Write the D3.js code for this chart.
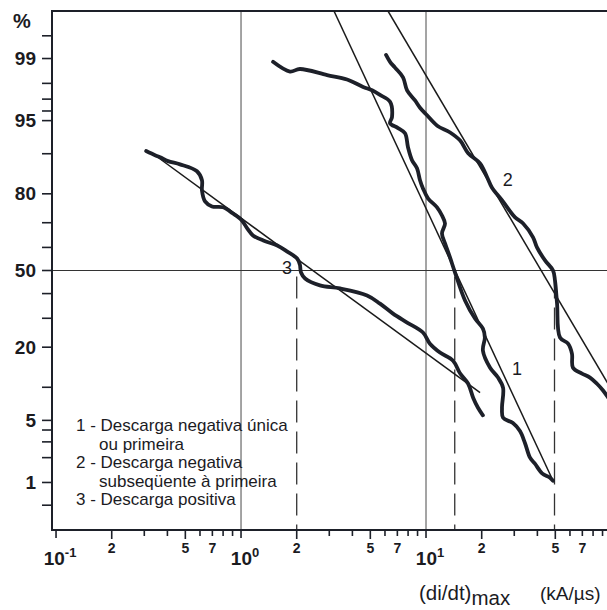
<!DOCTYPE html>
<html>
<head>
<meta charset="utf-8">
<script src="https://cdn.jsdelivr.net/npm/d3@7"></script>
<style>
  html, body { margin: 0; padding: 0; background: #ffffff; }
  svg { display: block; }
  text { font-family: "Liberation Sans", Arial, sans-serif; fill: #1b1b1f; }
</style>
</head>
<body>
<svg id="chart" width="607" height="610"></svg>
<script>
// Cumulative distribution of (di/dt)max, kA/µs, on log-probability paper.

// Curve 1 – negative first stroke: [di/dt, % exceeding]
const curve1 = [
  [1.49, 98.9], [1.84, 98.55], [2.08, 98.65], [2.92, 98.4], [3.74, 98.2], [4.57, 97.8],
  [5.11, 97.6], [5.64, 97.3], [6.39, 96.8], [6.55, 95.4], [6.39, 94.7], [7.06, 94.1],
  [7.70, 93.4], [7.99, 91.2], [8.40, 88.7], [8.94, 86.9], [9.28, 83.9], [9.63, 81.6],
  [10.25, 78.6], [11.47, 75.6], [12.2, 72.7], [12.67, 69.7], [12.2, 65.8], [12.67, 61.7],
  [13.48, 55.7], [14.35, 49.1], [16.25, 37.1], [18.4, 29.9], [20.3, 26.2], [20.8, 23.1],
  [20.3, 19.0], [22.2, 14.3], [24.5, 12.0], [26.1, 9.9], [25.75, 6.6], [26.1, 5.3],
  [29.5, 4.7], [32.2, 3.9], [34.3, 2.9], [36.5, 2.0], [38.8, 1.7], [42.4, 1.3],
  [46.8, 1.15], [48.6, 1.05]
];

// Curve 2 – negative subsequent stroke
const curve2 = [
  [6.08, 99.1], [6.39, 98.9], [6.80, 98.7], [7.51, 98.3], [7.90, 97.6], [8.72, 96.9],
  [9.28, 96.3], [10.1, 95.6], [11.5, 94.4], [13.5, 93.5], [15.3, 92.3], [16.9, 90.1],
  [19.6, 88.0], [21.4, 84.7], [22.7, 81.9], [25.8, 77.9], [30.3, 72.0], [33.5, 69.7],
  [37.9, 64.2], [39.8, 60.0], [44.0, 54.4], [48.6, 50.0], [49.8, 45.6], [51.1, 35.8],
  [53.0, 23.1], [58.6, 21.1], [61.5, 18.1], [62.3, 14.3], [69.7, 12.9], [77.0, 12.0],
  [84.0, 10.7], [90.6, 9.4], [98.8, 7.7]
];

// Curve 3 – positive stroke
const curve3 = [
  [0.307, 90.5], [0.343, 89.7], [0.365, 89.3], [0.403, 88.5], [0.468, 87.8], [0.578, 86.2],
  [0.615, 83.9], [0.615, 81.0], [0.639, 77.6], [0.697, 75.9], [0.799, 75.6], [0.905, 73.4],
  [1.01, 70.9], [1.08, 67.8], [1.16, 65.0], [1.32, 62.9], [1.57, 60.8], [1.77, 58.3],
  [2.01, 55.2], [2.08, 52.6], [2.11, 49.1], [2.22, 46.5], [2.67, 43.5], [3.43, 42.2],
  [4.80, 39.2], [5.64, 35.8], [6.63, 31.8], [7.90, 28.4], [9.63, 24.8], [10.5, 21.1],
  [11.9, 18.4], [14.0, 16.1], [15.3, 12.9], [16.9, 10.7], [18.0, 8.1], [19.1, 6.6],
  [20.3, 5.6]
];

// Fitted log-normal lines (two end points each)
const fit1 = [[3.18, 99.78], [48.6, 1.05]];
const fit2 = [[6.23, 99.78], [100, 9.7]];
const fit3 = [[0.343, 89.7], [19.6, 9.0]];

// Medians marked with dashed verticals
const medians = [2.0, 14.3, 49.5];

// Curve numbers placed next to each curve: [di/dt, %, label]
const curveLabels = [[31.0, 14.1, "1"], [27.7, 83.9, "2"], [1.77, 51.3, "3"]];

// Axis ticks
const yLabelTicks = [1, 5, 20, 50, 80, 95, 99];
const yMinorTicks = [0.5, 2, 3, 4, 10, 30, 40, 60, 70, 90, 96, 97, 98, 99.5];
const xDecades = [0.1, 1, 10];
const xDecadeExp = ["-1", "0", "1"];
const xMinorMult = [2, 3, 4, 5, 6, 7, 8, 9];
const xLabelMult = [2, 5, 7];

// Legend rows: [indent, text]
const legendLines = [
  [0, "1 - Descarga negativa única"],
  [23, "ou primeira"],
  [0, "2 - Descarga negativa"],
  [23, "subseqüente à primeira"],
  [0, "3 - Descarga positiva"]
];

// Inverse standard normal CDF (Acklam's rational approximation)
function probit(p) {
  const a = [-3.969683028665376e+01, 2.209460984245205e+02, -2.759285104469687e+02,
             1.383577518672690e+02, -3.066479806614716e+01, 2.506628277459239e+00];
  const b = [-5.447609879822406e+01, 1.615858368580409e+02, -1.556989798598866e+02,
             6.680131188771972e+01, -1.328068155288572e+01];
  const c = [-7.784894002430293e-03, -3.223964580411365e-01, -2.400758277161838e+00,
             -2.549732539343734e+00, 4.374664141464968e+00, 2.938163982698783e+00];
  const d = [7.784695709041462e-03, 3.224671290700398e-01, 2.445134137142996e+00,
             3.754408661907416e+00];
  const plow = 0.02425;
  let q, r;
  if (p < plow) {
    q = Math.sqrt(-2 * Math.log(p));
    return (((((c[0]*q+c[1])*q+c[2])*q+c[3])*q+c[4])*q+c[5]) /
           ((((d[0]*q+d[1])*q+d[2])*q+d[3])*q+1);
  } else if (p <= 1 - plow) {
    q = p - 0.5; r = q * q;
    return (((((a[0]*r+a[1])*r+a[2])*r+a[3])*r+a[4])*r+a[5])*q /
           (((((b[0]*r+b[1])*r+b[2])*r+b[3])*r+b[4])*r+1);
  } else {
    q = Math.sqrt(-2 * Math.log(1 - p));
    return -(((((c[0]*q+c[1])*q+c[2])*q+c[3])*q+c[4])*q+c[5]) /
            ((((d[0]*q+d[1])*q+d[2])*q+d[3])*q+1);
  }
}

const pLeft = 52, pTop = 11, pBottom = 530, pRight = 611;

const x = d3.scaleLog().domain([0.0951, 100]).range([pLeft, pRight]);
const yz = d3.scaleLinear()
  .domain([probit(0.0022), probit(0.9978)])
  .range([pBottom, pTop]);
const y = pct => yz(probit(pct / 100));

const svg = d3.select("#chart");

svg.append("defs").append("clipPath").attr("id", "plotClip")
  .append("rect").attr("x", pLeft).attr("y", pTop)
  .attr("width", pRight - pLeft).attr("height", pBottom - pTop);

const ink = "#1d2029";

// Grid: decade verticals and the 50 % line
svg.append("g").selectAll("line").data([1, 10]).join("line")
  .attr("x1", d => x(d)).attr("x2", d => x(d))
  .attr("y1", pTop).attr("y2", pBottom)
  .attr("stroke", "#4a4a4a").attr("stroke-width", 1);

svg.append("line")
  .attr("x1", pLeft).attr("x2", 607)
  .attr("y1", y(50)).attr("y2", y(50))
  .attr("stroke", "#333").attr("stroke-width", 1.2);

// Dashed median markers
svg.append("g").selectAll("line").data(medians).join("line")
  .attr("x1", d => x(d)).attr("x2", d => x(d))
  .attr("y1", y(50) + 6).attr("y2", pBottom)
  .attr("stroke", "#333").attr("stroke-width", 1.3)
  .attr("stroke-dasharray", "22,9");

// Frame
svg.append("path")
  .attr("d", `M${607},${pTop}H${pLeft}V${pBottom}H${607}`)
  .attr("fill", "none").attr("stroke", ink).attr("stroke-width", 2);

// Y ticks
const yTickAll = yLabelTicks.concat(yMinorTicks);
svg.append("g").selectAll("line").data(yTickAll).join("line")
  .attr("x1", pLeft - 10).attr("x2", pLeft)
  .attr("y1", d => y(d)).attr("y2", d => y(d))
  .attr("stroke", ink).attr("stroke-width", 1.6);

svg.append("g").selectAll("text").data(yLabelTicks).join("text")
  .attr("x", 36).attr("y", d => y(d))
  .attr("text-anchor", "end").attr("dominant-baseline", "central")
  .attr("font-size", 19).attr("font-weight", "bold")
  .text(d => d);

svg.append("text").attr("x", 22).attr("y", 21)
  .attr("text-anchor", "middle").attr("dominant-baseline", "central")
  .attr("font-size", 20).attr("font-weight", "bold").text("%");

// X ticks
const xTicks = [];
xDecades.forEach(dec => {
  xTicks.push({ v: dec, len: 8 });
  xMinorMult.forEach(m => {
    const v = dec * m;
    if (v <= 95) xTicks.push({ v, len: xLabelMult.includes(m) && m !== 7 ? 9 : 6 });
  });
});
svg.append("g").selectAll("line").data(xTicks).join("line")
  .attr("x1", d => x(d.v)).attr("x2", d => x(d.v))
  .attr("y1", pBottom).attr("y2", d => pBottom + d.len)
  .attr("stroke", ink).attr("stroke-width", 1.6);

const xSmall = [];
xDecades.forEach(dec => xLabelMult.forEach(m => xSmall.push({ v: dec * m, t: String(m) })));
svg.append("g").selectAll("text").data(xSmall).join("text")
  .attr("x", d => x(d.v)).attr("y", 553)
  .attr("text-anchor", "middle")
  .attr("font-size", 14).attr("font-weight", "bold")
  .text(d => d.t);

const decLabels = svg.append("g").selectAll("text").data(xDecades).join("text")
  .attr("x", d => x(d) + 4).attr("y", 565)
  .attr("text-anchor", "middle")
  .attr("font-size", 19).attr("font-weight", "bold");
decLabels.append("tspan").text("10");
decLabels.append("tspan").attr("dy", -8).attr("font-size", 13).text((d, i) => xDecadeExp[i]);

// Axis title
const title = svg.append("text").attr("x", 419).attr("y", 600)
  .attr("font-size", 20.5);
title.append("tspan").text("(di/dt)");
title.append("tspan").attr("dy", 5).text("max");
svg.append("text").attr("x", 540).attr("y", 600)
  .attr("font-size", 19).text("(kA/µs)");

// Fitted straight lines
const plot = svg.append("g").attr("clip-path", "url(#plotClip)");
const line = d3.line().x(d => x(d[0])).y(d => y(d[1]));
plot.selectAll("path.fit").data([fit1, fit2, fit3]).join("path")
  .attr("class", "fit")
  .attr("d", line)
  .attr("fill", "none").attr("stroke", "#1a1a1a").attr("stroke-width", 1.5);

// Measured distributions
const curve = d3.line().x(d => x(d[0])).y(d => y(d[1])).curve(d3.curveCatmullRom.alpha(0.5));
plot.selectAll("path.obs").data([curve1, curve2, curve3]).join("path")
  .attr("class", "obs")
  .attr("d", curve)
  .attr("fill", "none").attr("stroke", ink).attr("stroke-width", 3.8)
  .attr("stroke-linejoin", "round").attr("stroke-linecap", "round");

// Curve numbers
svg.append("g").selectAll("text").data(curveLabels).join("text")
  .attr("x", d => x(d[0])).attr("y", d => y(d[1]))
  .attr("text-anchor", "middle").attr("dominant-baseline", "central")
  .attr("font-size", 18)
  .text(d => d[2]);

// Legend
svg.append("g").selectAll("text").data(legendLines).join("text")
  .attr("x", d => 76 + d[0]).attr("y", (d, i) => 431 + i * 18.5)
  .attr("font-size", 17)
  .text(d => d[1]);
</script>
</body>
</html>
